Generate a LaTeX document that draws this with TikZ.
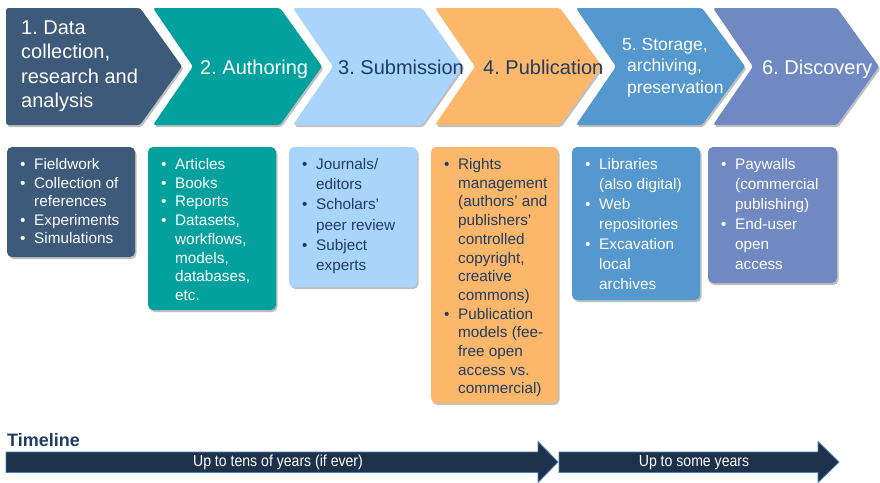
\documentclass[tikz,border=0pt]{standalone}
\usepackage{fontspec}
\setmainfont{Liberation Sans}
\newfontfamily\narrowfont[FakeStretch=0.88]{Liberation Sans}
\usetikzlibrary{shadows}
\frenchspacing
\definecolor{cA}{HTML}{3D5A7A}
\definecolor{cB}{HTML}{03A19E}
\definecolor{cC}{HTML}{A9D4FC}
\definecolor{cD}{HTML}{FCB76A}
\definecolor{cE}{HTML}{5598CF}
\definecolor{cF}{HTML}{7189C3}
\definecolor{navy}{HTML}{1F3D63}
\definecolor{tlfill}{HTML}{1D324A}
\definecolor{tlline}{HTML}{4A7EBB}
\newcommand{\bl}{\textbullet}
\newenvironment{blist}{\begin{tabular}[t]{@{}p{14pt}@{}l@{}}}{\end{tabular}}
\newenvironment{tlines}{\begin{tabular}[t]{@{}l@{}}}{\end{tabular}}
\tikzset{
  shd/.style={drop shadow={shadow xshift=1.5pt,shadow yshift=-2pt,opacity=0.25,fill=black}},
  chev/.style={shd,rounded corners=2.5pt},
  card/.style={shd,rounded corners=5pt},
  ttl/.style={font=\frenchspacing\fontsize{20}{24.5}\selectfont,inner sep=0pt,anchor=base west},
  lst/.style={inner sep=0pt,anchor=base west},
  tlarrow/.style={fill=tlfill,draw=tlline,line width=0.8pt},
  tltext/.style={font=\narrowfont\fontsize{16}{18}\selectfont,text=white,inner sep=0pt}
}
\begin{document}
\begin{tikzpicture}[x=1pt,y=-1pt]
\useasboundingbox (0,0) rectangle (880,482);
% chevrons
\path[chev,fill=cA] (6,8) -- (140,8) -- (182,66.5) -- (140,125) -- (6,125) -- cycle;
\path[chev,fill=cB] (153,8) -- (280,8) -- (322,66.5) -- (280,125) -- (153,125) -- (193,66.5) -- cycle;
\path[chev,fill=cC] (293,8) -- (422,8) -- (463,66.5) -- (422,125) -- (293,125) -- (333,66.5) -- cycle;
\path[chev,fill=cD] (435,8) -- (560,8) -- (602,66.5) -- (560,125) -- (435,125) -- (475,66.5) -- cycle;
\path[chev,fill=cE] (576,8) -- (702,8) -- (745,66.5) -- (702,125) -- (576,125) -- (616,66.5) -- cycle;
\path[chev,fill=cF] (713,8) -- (837,8) -- (879,66.5) -- (837,125) -- (713,125) -- (753,66.5) -- cycle;
% chevron titles
\node[ttl,text=white] (t1) at (21,34) {\begin{tlines}1. Data\\collection,\\research and\\analysis\end{tlines}};
\node[ttl,text=white] (t2) at (200,74) {2. Authoring};
\node[ttl,text=navy] (t3) at (338,74) {3. Submission};
\node[ttl,text=navy] (t4) at (483,74) {4. Publication};
\node[ttl,text=white,font=\frenchspacing\fontsize{17.5}{21.5}\selectfont] (t5) at (627,50) {\begin{tlines}\hspace*{-5pt}5. Storage,\\archiving,\\preservation\end{tlines}};
\node[ttl,text=white] (t6) at (762,74) {6. Discovery};
% cards
\path[card,fill=cA] (7,147) rectangle (135,257);
\path[card,fill=cB] (148,147) rectangle (276,310);
\path[card,fill=cC] (289,147) rectangle (417,287);
\path[card,fill=cD] (431,147) rectangle (558,403);
\path[card,fill=cE] (572,147) rectangle (700,300);
\path[card,fill=cF] (708,147) rectangle (837,283);
% card lists
\node[lst,text=white,font=\fontsize{15.3}{18.5}\selectfont] (l1) at (20,169.5)
  {\begin{blist}\bl & Fieldwork\\ \bl & Collection of\\ & references\\ \bl & Experiments\\ \bl & Simulations\end{blist}};
\node[lst,text=white,font=\fontsize{15.3}{18.7}\selectfont] (l2) at (161,169.5)
  {\begin{blist}\bl & Articles\\ \bl & Books\\ \bl & Reports\\ \bl & Datasets,\\ & workflows,\\ & models,\\ & databases,\\ & etc.\end{blist}};
\node[lst,text=navy,font=\fontsize{15.3}{20.2}\selectfont] (l3) at (302,169.5)
  {\begin{blist}\bl & Journals/\\ & editors\\ \bl & Scholars’\\ & peer review\\ \bl & Subject\\ & experts\end{blist}};
\node[lst,text=navy,font=\fontsize{15.3}{18.7}\selectfont] (l4) at (444,169.5)
  {\begin{blist}\bl & Rights\\ & management\\ & (authors’ and\\ & publishers’\\ & controlled\\ & copyright,\\ & creative\\ & commons)\\ \bl & Publication\\ & models (fee-\\ & free open\\ & access vs.\\ & commercial)\end{blist}};
\node[lst,text=white,font=\fontsize{15.3}{20}\selectfont] (l5) at (585,169.5)
  {\begin{blist}\bl & Libraries\\ & (also digital)\\ \bl & Web\\ & repositories\\ \bl & Excavation\\ & local\\ & archives\end{blist}};
\node[lst,text=white,font=\fontsize{15.3}{20}\selectfont] (l6) at (721,169.5)
  {\begin{blist}\bl & Paywalls\\ & (commercial\\ & publishing)\\ \bl & End-user\\ & open\\ & access\end{blist}};
% timeline
\node[anchor=base west,inner sep=0pt,text=navy,font=\bfseries\fontsize{18}{20}\selectfont] (tl) at (7,446.5) {Timeline};
\path[tlarrow] (6,452) -- (538,452) -- (538,441.5) -- (558,462) -- (538,482.5) -- (538,472.5) -- (6,472.5) -- cycle;
\path[tlarrow] (559,452) -- (818,452) -- (818,441.5) -- (839,462) -- (818,482.5) -- (818,472.5) -- (559,472.5) -- cycle;
\node[tltext] (a1) at (278,462.5) {Up to tens of years (if ever)};
\node[tltext] (a2) at (694,462.5) {Up to some years};
\end{tikzpicture}
\end{document}
